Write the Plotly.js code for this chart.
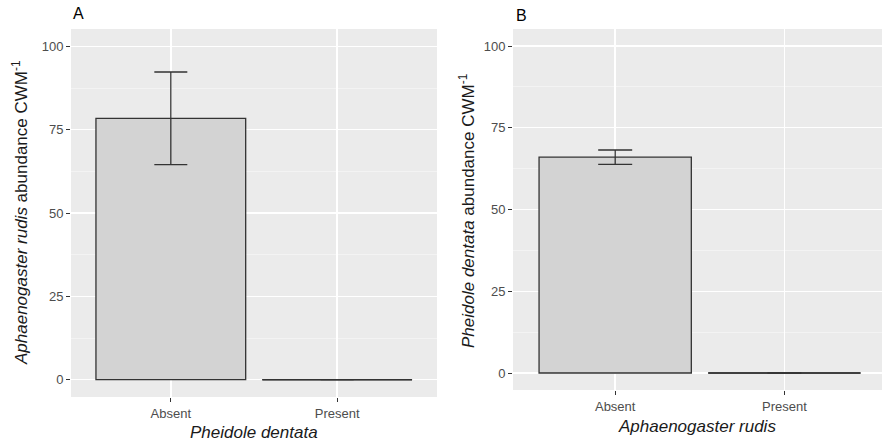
<!DOCTYPE html>
<html>
<head>
<meta charset="utf-8">
<script src="https://cdn.plot.ly/plotly-3.0.1.min.js"></script>
<style>html,body{margin:0;padding:0;background:#fff;}#plot{width:882px;height:443px;}</style>
</head>
<body>
<div id="plot"></div>
<script>
// Data
const categories = ["Absent", "Present"];
const meanA = [78.4, 0];     // Aphaenogaster rudis abundance by Pheidole dentata presence
const errA = [13.9, 0];
const meanB = [66.0, 0];     // Pheidole dentata abundance by Aphaenogaster rudis presence
const errB = [2.2, 0];
const yTicks = [0, 25, 50, 75, 100];

const FONT = "Liberation Sans, Arial, sans-serif";
const barFill = "#d3d3d3";
const barLine = "#333333";
const catPos = categories.map((c, i) => i);

function barTrace(y, err, xa, ya, capw) {
  return {
    type: "bar", x: catPos, y: y, xaxis: xa, yaxis: ya, width: 0.9,
    marker: {color: barFill, line: {color: barLine, width: 1.3}},
    error_y: {type: "data", array: err, visible: true, color: barLine, thickness: 1.3, width: capw},
    showlegend: false, hoverinfo: "skip"
  };
}
// zero-height bars drawn as a flat outline at their value
function zeroLine(y, xa, ya) {
  const xs = [], ys = [];
  y.forEach((v, i) => { if (v === 0) { xs.push(catPos[i] - 0.45, catPos[i] + 0.45, null); ys.push(v, v, null); } });
  return {type: "scatter", mode: "lines", x: xs, y: ys, xaxis: xa, yaxis: ya,
    line: {color: barLine, width: 1.5}, showlegend: false, hoverinfo: "skip"};
}

const xCommon = {
  type: "linear", tickmode: "array", tickvals: catPos, ticktext: categories,
  showgrid: true, gridcolor: "#ffffff", gridwidth: 1.4, zeroline: false,
  ticks: "outside", ticklen: 4, tickcolor: "#333333", tickwidth: 1,
  tickfont: {family: FONT, size: 13, color: "#4d4d4d"}, showline: false, fixedrange: true
};
const yCommon = {
  range: [-5.2, 105.2], tickmode: "array", tickvals: yTicks,
  showgrid: true, gridcolor: "#ffffff", gridwidth: 1.4, zeroline: false,
  minor: {dtick: 12.5, tick0: 12.5, showgrid: true, gridcolor: "#f7f7f7", gridwidth: 0.7, ticks: ""},
  ticks: "outside", ticklen: 4, tickcolor: "#333333", tickwidth: 1,
  tickfont: {family: FONT, size: 13, color: "#4d4d4d"}, showline: false, fixedrange: true
};

const data = [
  barTrace(meanA, errA, "x", "y", 16.5),
  zeroLine(meanA, "x", "y"),
  barTrace(meanB, errB, "x2", "y2", 17),
  zeroLine(meanB, "x2", "y2")
];

const layout = {
  width: 882, height: 443, margin: {l: 0, r: 0, t: 0, b: 0},
  paper_bgcolor: "#ffffff", plot_bgcolor: "#ebebeb",
  font: {family: FONT},
  xaxis: Object.assign({}, xCommon, {domain: [71/882, 437/882], range: [-0.6, 1.6], anchor: "y"}),
  yaxis: Object.assign({}, yCommon, {domain: [46/443, 414/443], anchor: "x"}),
  xaxis2: Object.assign({}, xCommon, {domain: [513/882, 1], range: [-0.604, 1.577], anchor: "y2"}),
  yaxis2: Object.assign({}, yCommon, {domain: [53/443, 414/443], anchor: "x2"}),
  annotations: [
    {text: "A", xref: "paper", yref: "paper", x: 71/882, y: 1 - 14/443, xanchor: "left", yanchor: "middle",
     showarrow: false, font: {family: FONT, size: 16, color: "#000"}},
    {text: "B", xref: "paper", yref: "paper", x: 514/882, y: 1 - 15/443, xanchor: "left", yanchor: "middle",
     showarrow: false, font: {family: FONT, size: 16, color: "#000"}},
    {text: "<i>Pheidole dentata</i>", xref: "paper", yref: "paper", x: 254/882, y: 1 - 432/443,
     xanchor: "center", yanchor: "middle", showarrow: false, font: {family: FONT, size: 17, color: "#1a1a1a"}},
    {text: "<i>Aphaenogaster rudis</i>", xref: "paper", yref: "paper", x: 697/882, y: 1 - 426/443,
     xanchor: "center", yanchor: "middle", showarrow: false, font: {family: FONT, size: 17, color: "#1a1a1a"}},
    {text: "<i>Aphaenogaster rudis</i> abundance CWM<sup>-1</sup>", xref: "paper", yref: "paper",
     x: 20/882, y: 1 - 213/443, xanchor: "center", yanchor: "middle", textangle: -90, showarrow: false,
     font: {family: FONT, size: 17, color: "#1a1a1a"}},
    {text: "<i>Pheidole dentata</i> abundance CWM<sup>-1</sup>", xref: "paper", yref: "paper",
     x: 467/882, y: 1 - 210/443, xanchor: "center", yanchor: "middle", textangle: -90, showarrow: false,
     font: {family: FONT, size: 17, color: "#1a1a1a"}}
  ]
};

Plotly.newPlot("plot", data, layout, {staticPlot: true, displayModeBar: false});
</script>
</body>
</html>
